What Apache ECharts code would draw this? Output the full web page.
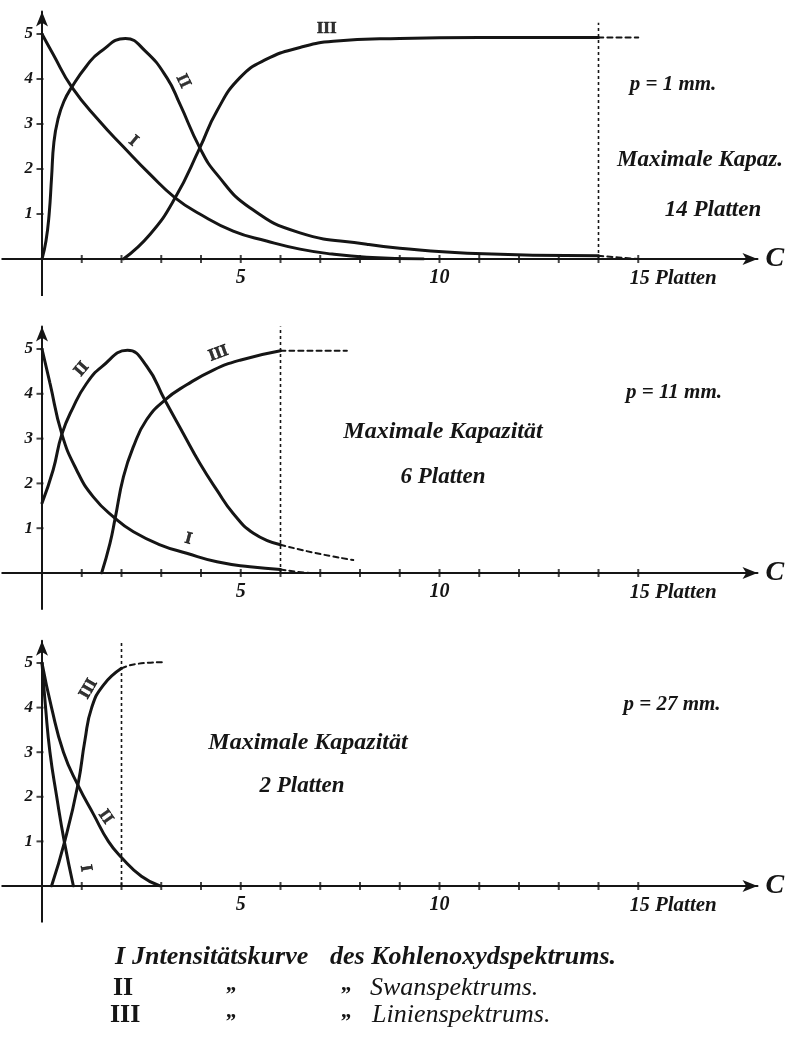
<!DOCTYPE html>
<html><head><meta charset="utf-8">
<script src="https://cdn.jsdelivr.net/npm/echarts@6/dist/echarts.min.js"></script>
<style>html,body{margin:0;padding:0;background:#fff}#c{width:796px;height:1044px}</style>
</head><body><div id="c"></div>
<script>
// ---------- data ----------
const xTickValues = [1,2,3,4,5,6,7,8,9,10,11,12,13,14,15];
const yTickValues = [1,2,3,4,5];
const xLabelValues = [5,10,15];
const yLabelValues = [1,2,3,4,5];
const yAxisExtension = [[0,0],[0,-0.82]];

// Panel 1: p = 1 mm
const p1_I   = [[0,5],[0.28,4.55],[0.75,3.82],[1.46,3.05],[2.04,2.5],[2.72,1.88],[3.35,1.36],[3.97,1.0],[4.81,0.62],[5.65,0.4],[6.49,0.22],[7.3,0.11],[8.17,0.04],[9.6,0]];
const p1_II  = [[0,0],[0.1,0.4],[0.18,1.0],[0.24,1.8],[0.3,2.6],[0.4,3.1],[0.55,3.5],[0.75,3.82],[1.12,4.29],[1.46,4.6],[2.1,4.9],[2.6,4.62],[3.14,4.03],[3.47,3.44],[3.97,2.47],[4.4,1.88],[5.23,1.14],[6.49,0.58],[8.17,0.33],[9.0,0.24],[10.7,0.13],[14,0.07]];
const p1_III = [[2.05,0],[2.72,0.55],[3.35,1.36],[3.97,2.47],[4.4,3.29],[4.98,4.03],[5.65,4.44],[6.49,4.7],[7.33,4.84],[9,4.9],[11,4.92],[14,4.92]];
const p1_IIdash  = [[14,0.07],[15,0]];
const p1_IIIdash = [[14,4.92],[15,4.92]];
const p1_limit   = [[14,0],[14,5.25]];
const p1_curveLabels = [['III',7.16,5.12],['II',3.55,3.95],['I',2.3,2.62]];
const p1_labelRot = [0,-65,-40];
const p1_texts = ['p = 1 mm.','Maximale Kapaz.','14 Platten'];

// Panel 2: p = 11 mm
const p2_I   = [[0,5],[0.2,4.24],[0.5,3.1],[0.87,2.3],[1.29,1.7],[1.84,1.22],[2.3,0.92],[2.97,0.63],[3.64,0.44],[4.4,0.25],[5.23,0.14],[6,0.08]];
const p2_II  = [[0,1.56],[0.28,2.3],[0.5,3.1],[0.79,3.71],[1.12,4.23],[1.5,4.6],[2.15,4.97],[2.63,4.62],[3.09,3.86],[3.55,3.12],[3.97,2.45],[4.4,1.85],[4.81,1.33],[5.32,0.89],[6,0.63]];
const p2_III = [[1.5,0],[1.71,0.66],[1.84,1.22],[2.05,2.15],[2.3,2.82],[2.63,3.42],[3.09,3.86],[3.64,4.2],[4.31,4.53],[4.98,4.75],[6,4.96]];
const p2_Idash   = [[6,0.08],[6.4,0.03],[6.74,0]];
const p2_IIdash  = [[6,0.63],[6.91,0.44],[7.83,0.29]];
const p2_IIIdash = [[6,4.96],[7.67,4.96]];
const p2_limit   = [[6,0],[6,5.5]];
const p2_curveLabels = [['II',1.0,4.55],['III',4.44,4.9],['I',3.68,0.76]];
const p2_labelRot = [50,20,-15];
const p2_texts = ['p = 11 mm.','Maximale Kapazität','6 Platten'];

// Panel 3: p = 27 mm
const p3_I   = [[0,5],[0.09,4],[0.2,3],[0.37,2],[0.56,1],[0.79,0]];
const p3_II  = [[0,5],[0.24,4],[0.54,3],[0.91,2.25],[1.3,1.6],[1.67,1.0],[2.0,0.64],[2.5,0.22],[2.97,0]];
const p3_III = [[0.24,0],[0.58,1.03],[0.91,2.3],[1.08,3.27],[1.25,4.0],[1.54,4.5],[2.0,4.88]];
const p3_IIIdash = [[2.0,4.88],[2.38,4.98],[3.09,5.02]];
const p3_limit   = [[2,0],[2,5.7]];
const p3_curveLabels = [['III',1.17,4.42],['II',1.6,1.55],['I',1.1,0.4]];
const p3_labelRot = [60,-55,-80];
const p3_texts = ['p = 27 mm.','Maximale Kapazität','2 Platten'];

const legendNumerals = ['I','II','III'];
const legendLine1 = ['Jntensitätskurve','des Kohlenoxydspektrums.'];
const legendNames = ['Swanspektrums.','Linienspektrums.'];
const dittoMark = '\u201E';

// ---------- layout ----------
const INK = '#151515';
const SERIF = '"Liberation Serif", "DejaVu Serif", serif';
const unitX = 39.75;
const panelZeroY = [259, 573, 886];
const panelUnitY = [45, 44.8, 44.6];

const grids = [], xAxes = [], yAxes = [], series = [];

function addCurve(i, data, dashed, width) {
  series.push({
    type: 'line', xAxisIndex: i, yAxisIndex: i, data: data,
    smooth: 0.5, showSymbol: false, symbol: 'none',
    silent: true, z: 3,
    lineStyle: { color: INK, width: width || (dashed ? 2 : 3), type: dashed ? [5, 4] : 'solid', cap: 'round', join: 'round' }
  });
}

const panelsData = [
  { solid: [p1_I, p1_II, p1_III], dashed: [p1_IIdash, p1_IIIdash], limit: p1_limit, labels: p1_curveLabels, rot: p1_labelRot },
  { solid: [p2_I, p2_II, p2_III], dashed: [p2_Idash, p2_IIdash, p2_IIIdash], limit: p2_limit, labels: p2_curveLabels, rot: p2_labelRot },
  { solid: [p3_I, p3_II, p3_III], dashed: [p3_IIIdash], limit: p3_limit, labels: p3_curveLabels, rot: p3_labelRot }
];

panelsData.forEach((pd, i) => {
  const u = panelUnitY[i];
  grids.push({ left: 42 - unitX, width: 19 * unitX, top: panelZeroY[i] - 5.5 * u, height: 5.5 * u, containLabel: false, outerBoundsMode: 'none' });
  xAxes.push({
    gridIndex: i, type: 'value', min: -1, max: 18, interval: 1,
    axisLine: { onZero: false, lineStyle: { color: INK, width: 2 }, symbol: ['none', 'arrow'], symbolSize: [9, 15] },
    axisTick: { show: false }, splitLine: { show: false },
    axisLabel: {
      margin: 9, color: INK, fontFamily: SERIF, fontStyle: 'italic', fontWeight: 'bold', fontSize: 20,
      formatter: v => {
        if (!xLabelValues.includes(v)) return '';
        if (v === 15) return '{a|15}{b| Platten}';
        return String(v);
      },
      rich: {
        a: { fontFamily: SERIF, fontStyle: 'italic', fontWeight: 'bold', fontSize: 20, color: INK, padding: [0, 0, 0, 70] },
        b: { fontFamily: SERIF, fontStyle: 'italic', fontWeight: 'bold', fontSize: 21, color: INK }
      }
    },
    name: 'C', nameLocation: 'end', nameGap: 8,
    nameTextStyle: { color: INK, fontFamily: SERIF, fontStyle: 'italic', fontWeight: 'bold', fontSize: 28, verticalAlign: 'middle' }
  });
  yAxes.push({
    gridIndex: i, type: 'value', min: 0, max: 5.5, interval: 1,
    axisLine: { onZero: true, lineStyle: { color: INK, width: 2 }, symbol: ['none', 'arrow'], symbolSize: [9, 15] },
    axisTick: { show: false }, splitLine: { show: false },
    axisLabel: {
      margin: 9 - unitX, color: INK, fontFamily: SERIF, fontStyle: 'italic', fontWeight: 'bold', fontSize: 17,
      formatter: v => yLabelValues.includes(v) ? String(v) : ''
    }
  });
  // y axis continues below the origin
  series.push({
    type: 'line', xAxisIndex: i, yAxisIndex: i, data: yAxisExtension, clip: false, showSymbol: false, symbol: 'none', silent: true, z: 2,
    lineStyle: { color: INK, width: 2 }
  });
  // curves
  pd.solid.forEach(d => addCurve(i, d, false));
  pd.dashed.forEach(d => addCurve(i, d, true));
  // capacity limit (dotted vertical)
  series.push({
    type: 'line', xAxisIndex: i, yAxisIndex: i, data: pd.limit, showSymbol: false, symbol: 'none', silent: true, z: 2,
    lineStyle: { color: INK, width: 1.6, type: [3, 3] }
  });
  // tick marks
  series.push({
    type: 'scatter', xAxisIndex: i, yAxisIndex: i, silent: true, z: 4, clip: false,
    data: xTickValues.map(v => [v, 0]), symbol: 'rect', symbolSize: [2, 8], itemStyle: { color: INK }
  });
  series.push({
    type: 'scatter', xAxisIndex: i, yAxisIndex: i, silent: true, z: 4, clip: false,
    data: yTickValues.map(v => [0, v]), symbol: 'rect', symbolSize: [7, 2], symbolOffset: [-2, 0], itemStyle: { color: INK }
  });
  // curve labels
  series.push({
    type: 'scatter', xAxisIndex: i, yAxisIndex: i, silent: true, z: 5,
    symbolSize: 1, itemStyle: { color: 'rgba(0,0,0,0)' },
    data: pd.labels.map((l, k) => ({ name: l[0], value: [l[1], l[2]], label: { rotate: pd.rot[k] } })),
    label: { show: true, position: 'inside', formatter: '{b}', color: '#000', fontFamily: SERIF, fontWeight: 'bold', fontSize: 17, textBorderColor: '#000', textBorderWidth: 0.6 }
  });
});

// ---------- annotation texts ----------
function txt(text, x, y, size, opts) {
  return {
    type: 'text', x: x, y: y, silent: true,
    style: Object.assign({ text: text, fill: INK, fontFamily: SERIF, fontStyle: 'italic', fontWeight: 'bold', fontSize: size, align: 'center', verticalAlign: 'middle' }, opts || {})
  };
}
const graphics = [
  txt(p1_texts[0], 673, 85, 21), txt(p1_texts[1], 700, 160, 23), txt(p1_texts[2], 713, 210, 23),
  txt(p2_texts[0], 674, 393, 21), txt(p2_texts[1], 443, 432, 24), txt(p2_texts[2], 443, 477, 23),
  txt(p3_texts[0], 672, 705, 21), txt(p3_texts[1], 308, 743, 24), txt(p3_texts[2], 302, 786, 23),
  // legend
  txt(legendNumerals[0], 115, 957, 26, { align: 'left' }),
  txt(legendLine1[0], 132, 957, 26, { align: 'left' }),
  txt(legendLine1[1], 330, 957, 26, { align: 'left' }),
  txt(legendNumerals[1], 113, 988, 26, { align: 'left', fontStyle: 'normal', fontWeight: 'bold' }),
  txt(dittoMark, 232, 984, 22, { align: 'center', fontWeight: 'bold' }),
  txt(dittoMark, 347, 984, 22, { align: 'center', fontWeight: 'bold' }),
  txt(legendNames[0], 370, 988, 26, { align: 'left', fontWeight: 'normal' }),
  txt(legendNumerals[2], 110, 1015, 26, { align: 'left', fontStyle: 'normal', fontWeight: 'bold' }),
  txt(dittoMark, 232, 1011, 22, { align: 'center', fontWeight: 'bold' }),
  txt(dittoMark, 347, 1011, 22, { align: 'center', fontWeight: 'bold' }),
  txt(legendNames[1], 372, 1015, 26, { align: 'left', fontWeight: 'normal' })
];

const chart = echarts.init(document.getElementById('c'), null, { renderer: 'canvas' });
chart.setOption({
  backgroundColor: '#fff',
  animation: false,
  grid: grids, xAxis: xAxes, yAxis: yAxes, series: series,
  graphic: graphics
});
</script></body></html>
